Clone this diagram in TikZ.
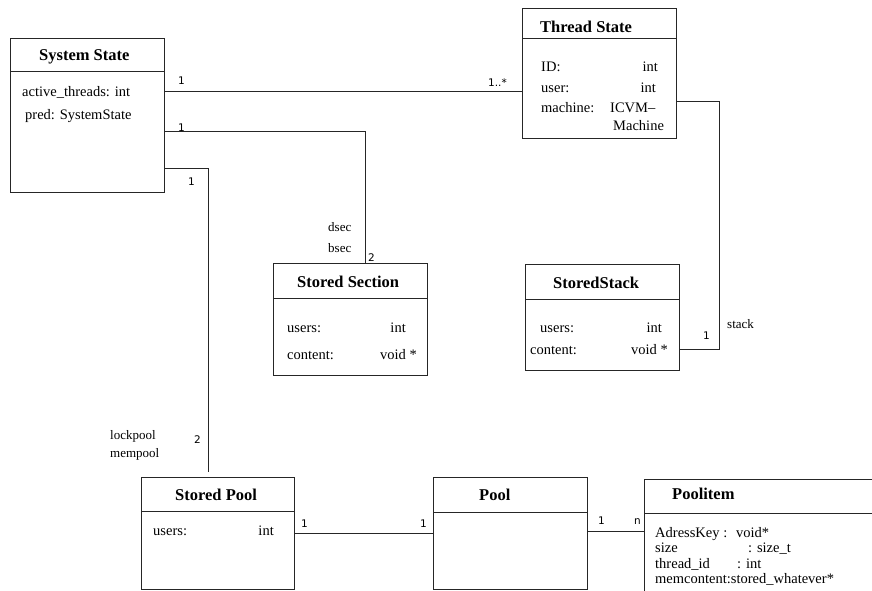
\documentclass[tikz,border=0pt]{standalone}
\usepackage{fontspec}
\setmainfont{Liberation Serif}
\newfontfamily\numfont{DejaVu Sans}
\tikzset{
  cls/.style={draw=black!85, line width=1pt, anchor=north west, inner sep=0pt, outer sep=0pt},
  sepline/.style={draw=black!85, line width=1pt},
  link/.style={draw=black!85, line width=1pt},
  txt/.style={anchor=west, inner sep=0pt, text height=1.5ex, text depth=.25ex, yshift=-3pt},
  clstitle/.style={txt, font=\fontsize{16.5}{18}\selectfont\bfseries},
  attr/.style={txt, font=\fontsize{14.5}{17}\selectfont},
  attrr/.style={attr, anchor=east},
  role/.style={txt, font=\fontsize{13}{15}\selectfont},
  mult/.style={txt, font=\numfont\fontsize{10.5}{12}\selectfont, yshift=1pt}
}
\begin{document}
\begin{tikzpicture}[x=1pt, y=-1pt]
\useasboundingbox (0,0) rectangle (872,590);
\clip (0,0) rectangle (872,590);

% System State
\node[cls, minimum width=154pt, minimum height=154pt] (sys) at (10,38) {};
\draw[sepline] (sys.north west |- 0,71) -- (sys.north east |- 0,71);
\node[clstitle] (sys-t) at (39,55) {System State};
\node[attr] (sys-a1) at (22,91) {active\_threads: int};
\node[attr] (sys-a2) at (25,114) {pred: SystemState};

% Thread State
\node[cls, minimum width=154pt, minimum height=130pt] (thread) at (522,8) {};
\draw[sepline] (thread.north west |- 0,38) -- (thread.north east |- 0,38);
\node[clstitle] (thread-t) at (540,27) {Thread State};
\node[attr] (thread-a1) at (541,66) {ID:};
\node[attrr] (thread-v1) at (658,66) {int};
\node[attr] (thread-a2) at (541,87) {user:};
\node[attrr] (thread-v2) at (656,87) {int};
\node[attr] (thread-a3) at (541,107) {machine:};
\node[attr] (thread-v3) at (610,107) {ICVM--};
\node[attr] (thread-v4) at (613,125) {Machine};

% Stored Section
\node[cls, minimum width=154pt, minimum height=112pt] (sec) at (273,263) {};
\draw[sepline] (sec.north west |- 0,298) -- (sec.north east |- 0,298);
\node[clstitle] (sec-t) at (297,282) {Stored Section};
\node[attr] (sec-a1) at (287,327) {users:};
\node[attrr] (sec-v1) at (406,327) {int};
\node[attr] (sec-a2) at (287,354) {content:};
\node[attrr] (sec-v2) at (417,354) {void *};

% StoredStack
\node[cls, minimum width=154pt, minimum height=106pt] (stack) at (525,264) {};
\draw[sepline] (stack.north west |- 0,299) -- (stack.north east |- 0,299);
\node[clstitle] (stack-t) at (553,283) {StoredStack};
\node[attr] (stack-a1) at (540,327) {users:};
\node[attrr] (stack-v1) at (662,327) {int};
\node[attr] (stack-a2) at (530,349) {content:};
\node[attrr] (stack-v2) at (668,349) {void *};

% Stored Pool
\node[cls, minimum width=153pt, minimum height=112pt] (spool) at (141,477) {};
\draw[sepline] (spool.north west |- 0,511) -- (spool.north east |- 0,511);
\node[clstitle] (spool-t) at (175,495) {Stored Pool};
\node[attr] (spool-a1) at (153,530) {users:};
\node[attrr] (spool-v1) at (274,530) {int};

% Pool
\node[cls, minimum width=154pt, minimum height=112pt] (pool) at (433,477) {};
\draw[sepline] (pool.north west |- 0,512) -- (pool.north east |- 0,512);
\node[clstitle] (pool-t) at (479,495) {Pool};

% Poolitem
\node[cls, minimum width=260pt, minimum height=140pt] (item) at (644,479) {};
\draw[sepline] (item.north west |- 0,513) -- (item.north east |- 0,513);
\node[clstitle] (item-t) at (672,494) {Poolitem};
\node[attr] (item-a1) at (655,532) {AdressKey :};
\node[attr] (item-v1) at (736,532) {void*};
\node[attr] (item-a2) at (655,547) {size};
\node[attr] (item-v2) at (748,547) {: size\_t};
\node[attr] (item-a3) at (655,563) {thread\_id};
\node[attr] (item-v3) at (737,563) {: int};
\node[attr] (item-a4) at (655,578) {memcontent:stored\_whatever*};

% connectors
\coordinate (lockend) at (208,472);
\draw[link] (sys.north east |- 0,91) -- (thread.north west |- 0,91);
\draw[link] (sys.north east |- 0,131) -| (sec.north west -| 365,0);
\draw[link] (sys.north east |- 0,168) -| (lockend);
\draw[link] (thread.north east |- 0,101) -| ++(43,124) |- (stack.north east |- 0,349);
\draw[link] (spool.north east |- 0,533) -- (pool.north west |- 0,533);
\draw[link] (pool.north east |- 0,531) -- (item.north west |- 0,531);

% multiplicities and roles
\node[mult] (m-sys1) at (178,80) {1};
\node[mult] (m-thr) at (488,82) {1..*};
\node[mult] (m-sys2) at (178,127) {1};
\node[mult] (m-sys3) at (188,181) {1};
\node[role] (r-dsec) at (328,226) {dsec};
\node[role] (r-bsec) at (328,247) {bsec};
\node[mult] (m-sec) at (368,257) {2};
\node[role] (r-stack) at (727,323) {stack};
\node[mult] (m-stack) at (703,335) {1};
\node[role] (r-lock) at (110,434) {lockpool};
\node[role] (r-mem) at (110,452) {mempool};
\node[mult] (m-spool) at (194,439) {2};
\node[mult] (m-sp1) at (301,523) {1};
\node[mult] (m-po1) at (420,523) {1};
\node[mult] (m-po2) at (598,520) {1};
\node[mult] (m-item) at (634,520) {n};
\end{tikzpicture}
\end{document}
